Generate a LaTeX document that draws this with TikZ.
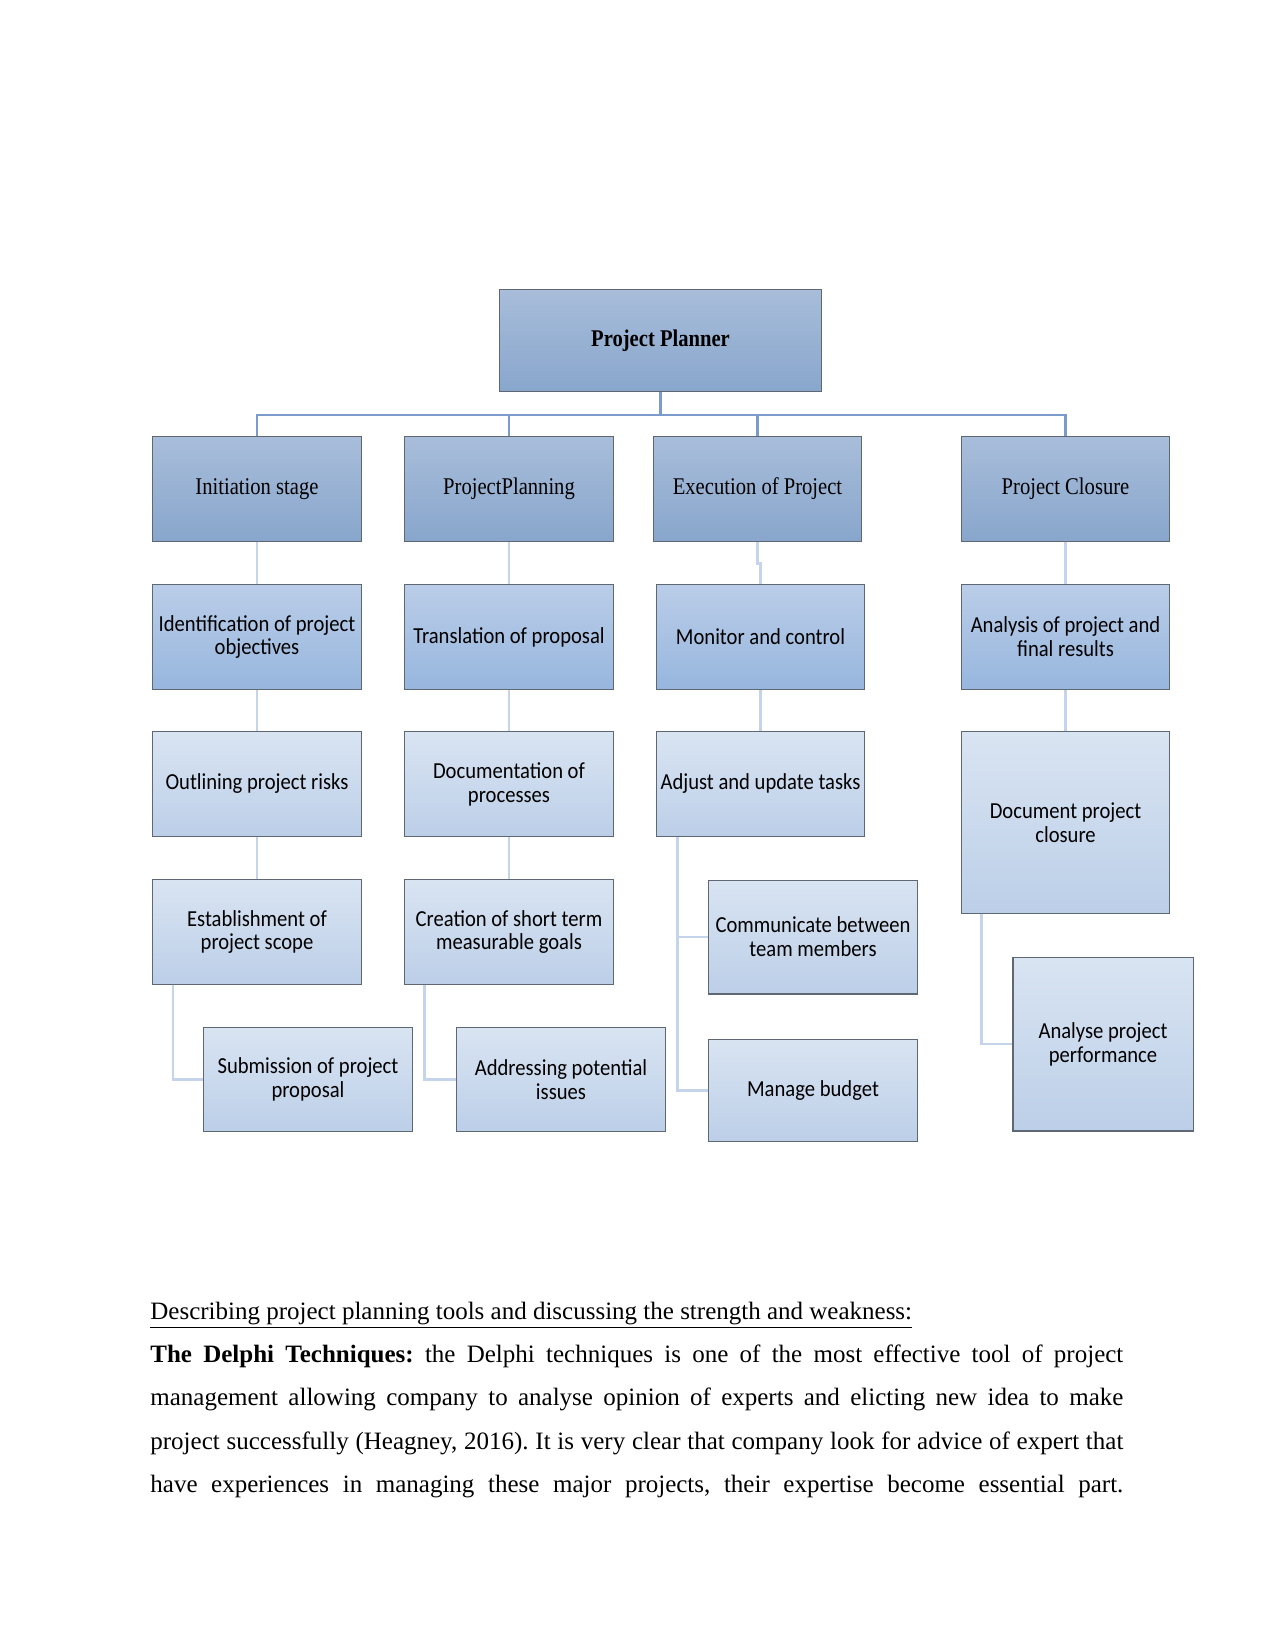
\documentclass[tikz,border=0pt]{standalone}
\usepackage{fontspec}
\setmainfont{Liberation Serif}
\newfontfamily\dserif[FakeStretch=0.86]{Liberation Serif}
\newfontfamily\dsans[FakeStretch=0.9]{Carlito}
\definecolor{bordc}{HTML}{5F6872}
\definecolor{busc}{HTML}{7A9BCB}
\definecolor{linkc}{HTML}{C5D4EA}
\definecolor{lAtop}{HTML}{A8BDDA}
\definecolor{lAbot}{HTML}{88A6CC}
\definecolor{lBtop}{HTML}{BACDE8}
\definecolor{lBbot}{HTML}{97B6DE}
\definecolor{lCtop}{HTML}{D9E4F2}
\definecolor{lCbot}{HTML}{BCCFE8}
\tikzset{
  boxbase/.style={draw=bordc, line width=0.5pt, rectangle, inner sep=1pt, align=center,
    minimum width=100pt, minimum height=50pt},
  lvlA/.style={boxbase, top color=lAtop, bottom color=lAbot, font=\dserif\fontsize{11.5}{13}\selectfont},
  lvlB/.style={boxbase, top color=lBtop, bottom color=lBbot, font=\dsans\fontsize{11}{11.5}\selectfont},
  lvlC/.style={boxbase, top color=lCtop, bottom color=lCbot, font=\dsans\fontsize{11}{11.5}\selectfont},
  busline/.style={draw=busc, line width=1pt},
  linkline/.style={draw=linkc, line width=1.2pt},
}
\begin{document}
\begin{tikzpicture}[x=0.48pt, y=-0.48pt]
\path[use as bounding box, fill=white] (0,0) rectangle (1275,1650);

% level 0
\node[lvlA, minimum width=155pt, minimum height=49.4pt, font=\dserif\bfseries\fontsize{11.5}{13}\selectfont] (pp) at (660.5,340.5) {Project Planner};

% level 1
\node[lvlA] (init) at (257,489) {Initiation stage};
\node[lvlA] (plan) at (509,489) {ProjectPlanning};
\node[lvlA] (exec) at (757.5,489) {Execution of Project};
\node[lvlA] (clos) at (1065.5,489) {Project Closure};

% level 2
\node[lvlB] (ident) at (257,637) {Identification of project\\objectives};
\node[lvlB] (trans) at (509,637) {Translation of proposal};
\node[lvlB] (mon) at (760.5,637) {Monitor and control};
\node[lvlB] (anal) at (1065.5,637) {Analysis of project and\\final results};

% level 3
\node[lvlC] (outl) at (257,784) {Outlining project risks};
\node[lvlC] (docu) at (509,784) {Documentation of\\processes};
\node[lvlC] (adj) at (760.5,784) {Adjust and update tasks};
\node[lvlC, minimum height=87pt] (dclos) at (1065.5,822.5) {Document project\\closure};

% level 4
\node[lvlC] (est) at (257,932) {Establishment of\\project scope};
\node[lvlC] (crea) at (509,932) {Creation of short term\\measurable goals};
\node[lvlC, minimum height=54.7pt] (comm) at (813,937) {Communicate between\\team members};

% level 5
\node[lvlC] (sub) at (308,1079.5) {Submission of project\\proposal};
\node[lvlC] (addr) at (561,1079.5) {Addressing potential\\issues};
\node[lvlC, minimum height=49.4pt] (bud) at (813,1090.5) {Manage budget};
\node[lvlC, minimum width=86.4pt, minimum height=83.5pt] (perf) at (1103,1044) {Analyse project\\performance};

% connectors from root
\coordinate (bus) at (660.5,415);
\draw[busline] (pp.south) -- (bus);
\draw[busline] (init.north) -- (init.north |- bus) -- (clos.north |- bus) -- (clos.north);
\draw[busline] (plan.north) -- (plan.north |- bus);
\draw[busline] (exec.north) -- (exec.north |- bus);

% vertical chains
\draw[linkline] (init.south) -- (ident.north);
\draw[linkline] (ident.south) -- (outl.north);
\draw[linkline] (outl.south) -- (est.north);
\draw[linkline] (plan.south) -- (trans.north);
\draw[linkline] (trans.south) -- (docu.north);
\draw[linkline] (docu.south) -- (crea.north);
\draw[linkline] (exec.south) -- ++(0,22) -| (mon.north);
\draw[linkline] (mon.south) -- (adj.north);
\draw[linkline] (clos.south) -- (anal.north);
\draw[linkline] (anal.south) -- (dclos.north);

% side connectors
\draw[linkline] ([xshift=10pt]est.south west) |- (sub.west);
\draw[linkline] ([xshift=9.6pt]crea.south west) |- (addr.west);
\draw[linkline] ([xshift=10.3pt]adj.south west) |- (bud.west);
\draw[linkline] ([xshift=10.3pt]adj.south west) |- (comm.west);
\draw[linkline] ([xshift=10pt]dclos.south west) |- (perf.west);

% body text
\node[anchor=base west, inner sep=0pt, font=\fontsize{12}{14}\selectfont] (head) at (150,1319)
  {\underline{Describing project planning tools and discussing the strength and weakness:}};
\node[anchor=north west, inner sep=0pt, text width=467pt, align=justify,
      font=\fontsize{12}{20.9}\selectfont] (para) at (150,1344)
  {\frenchspacing\hyphenpenalty=10000\exhyphenpenalty=10000\parfillskip=0pt
   \textbf{The Delphi Techniques:} the Delphi techniques is one of the most effective tool of project\linebreak
   management allowing company to analyse opinion of experts and elicting new idea to make\linebreak
   project successfully (Heagney, 2016). It is very clear that company look for advice of expert that\linebreak
   have experiences in managing these major projects, their expertise become essential part.\par};
\end{tikzpicture}
\end{document}
